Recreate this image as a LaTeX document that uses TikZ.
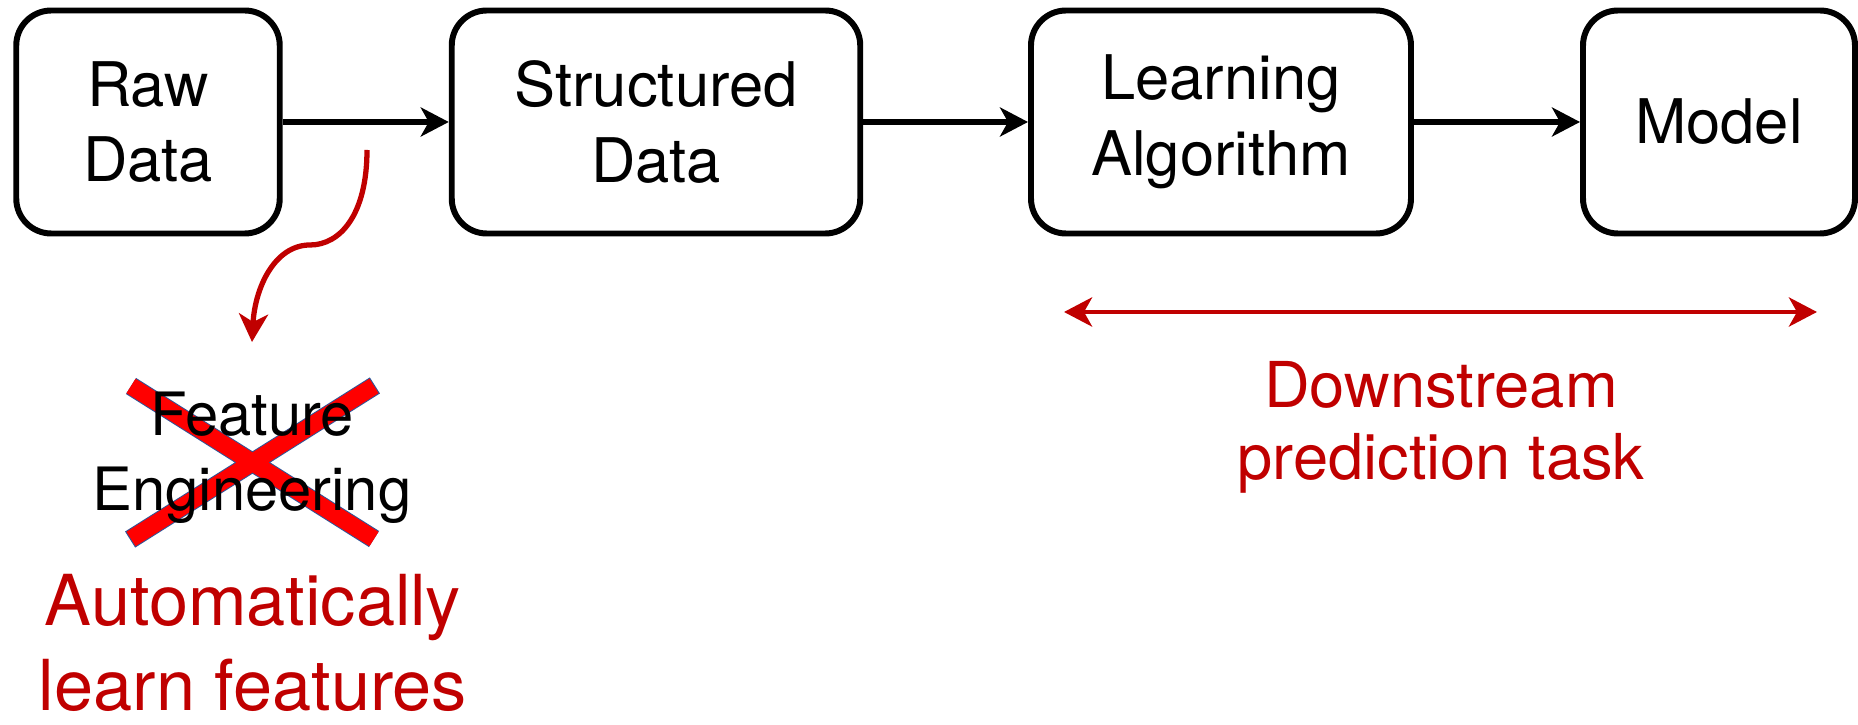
\documentclass[tikz,border=0pt]{standalone}
\usepackage{fontspec}
\setmainfont{TeX Gyre Heros}
\usetikzlibrary{arrows.meta}
\definecolor{darkred}{HTML}{C00000}
\definecolor{crossedge}{HTML}{2F5597}

\begin{document}
\begin{tikzpicture}[
  stage/.style={draw, line width=1.7pt, rounded corners=0.35cm, minimum height=2.23cm, inner sep=0pt, align=center, font=\fontsize{17.5}{21.5}\selectfont},
  flow/.style={-{Stealth[length=0.28cm, width=0.29cm, inset=0.08cm]}, line width=1.7pt},
  redflow/.style={-{Stealth[length=0.28cm, width=0.29cm, inset=0.08cm]}, line width=1.5pt, color=darkred},
  redtext/.style={color=darkred, align=center}
]
\useasboundingbox (0, 0) rectangle (18.58, -7.25);

\node[stage, minimum width=2.635cm] (raw) at (1.48, -1.22) {Raw\\Data};
\node[stage, minimum width=4.085cm] (structured) at (6.56, -1.22) {Structured\\Data};
\node[stage, minimum width=3.80cm] (learning) at (12.21, -1.22) {Learning\\Algorithm};
\node[stage, minimum width=2.72cm] (model) at (17.19, -1.22) {Model};

\draw[flow] (raw) -- (structured) {};
\draw[flow] (structured) -- (learning) {};
\draw[flow] (learning) -- (model) {};

\coordinate (fe start) at (3.67, -1.50);
\coordinate (fe bend) at (3.10, -2.45);
\coordinate (fe end) at (2.52, -3.42);
\draw[redflow] (fe start) .. controls +(0, -0.65) and +(0.3, 0) .. (fe bend) .. controls +(-0.35, 0) and +(0.03, 0.55) .. (fe end) {};

\coordinate (x top left) at (1.31, -3.86);
\coordinate (x bottom right) at (3.74, -5.39);
\coordinate (x top right) at (3.74, -3.86);
\coordinate (x bottom left) at (1.31, -5.39);
\draw[line width=0.19cm, color=crossedge, shorten <=-0.3pt, shorten >=-0.3pt] (x top left) -- (x bottom right) (x top right) -- (x bottom left);
\draw[line width=0.17cm, color=red] (x top left) -- (x bottom right) (x top right) -- (x bottom left);

\node[align=center, font=\fontsize{17}{21.3}\selectfont] (feature) at (2.52, -4.575) {Feature\\Engineering};
\node[redtext, inner sep=0pt, font=\fontsize{20}{24}\selectfont] (auto) at (2.53, -6.43) {Automatically\\learn features};

\coordinate (task left) at (10.64, -3.12);
\coordinate (task right) at (18.17, -3.12);
\draw[redflow, {Stealth[length=0.28cm, width=0.29cm, inset=0.08cm]}-{Stealth[length=0.28cm, width=0.29cm, inset=0.08cm]}, line width=1.4pt] (task left) -- (task right) {};
\node[redtext, font=\fontsize{18}{20.5}\selectfont] (task) at (14.41, -4.27) {Downstream\\prediction task};
\end{tikzpicture}
\end{document}
